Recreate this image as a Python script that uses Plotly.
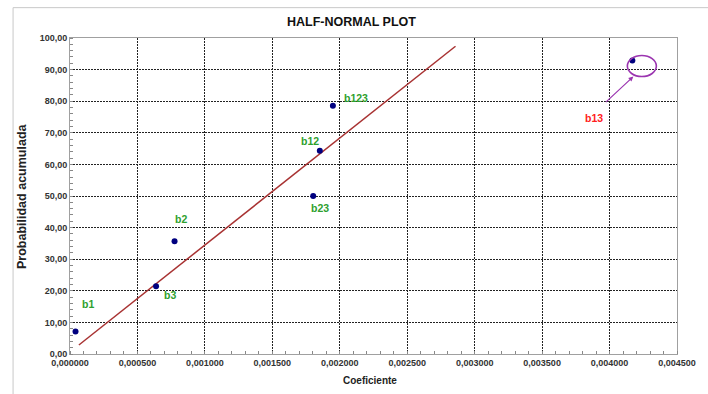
import plotly.graph_objects as go

# ---- data ----
effects = ["b1", "b3", "b2", "b23", "b12", "b123", "b13"]
coef = [0.000041, 0.000638, 0.000775, 0.001803, 0.001852, 0.001949, 0.004169]
prob = [7.14, 21.43, 35.71, 50.00, 64.29, 78.57, 92.86]
fit_x = [0.0000658, 0.002858]
fit_y = [2.85, 97.4]
x_ticks = [0.0, 0.0005, 0.001, 0.0015, 0.002, 0.0025, 0.003, 0.0035, 0.004, 0.0045]
y_ticks = [0, 10, 20, 30, 40, 50, 60, 70, 80, 90, 100]
highlight = "b13"

# label pixel offsets (style, not data)
label_shift = {
    "b1": (12, 27), "b3": (14, -9), "b2": (6, 22), "b23": (7, -12),
    "b12": (-10, 10), "b123": (23, 8), "b13": (-38, -57),
}

FONT = "Liberation Sans, Arial, sans-serif"
GREEN = "#2ea02e"
PURPLE = "#9b35b0"

fig = go.Figure()
fig.add_trace(go.Scatter(x=fit_x, y=fit_y, mode="lines",
                         line=dict(color="#a83232", width=1.5),
                         hoverinfo="skip", showlegend=False))
fig.add_trace(go.Scatter(x=coef, y=prob, mode="markers",
                         marker=dict(color="#00007f", size=6),
                         showlegend=False))

annotations = []
for name, xv, yv in zip(effects, coef, prob):
    dx, dy = label_shift[name]
    annotations.append(dict(
        x=xv, y=yv, xref="x", yref="y", text=name, showarrow=False,
        xshift=dx, yshift=dy, xanchor="center", yanchor="middle",
        font=dict(family=FONT, size=10.5, weight="bold",
                  color="#ff2020" if name == highlight else GREEN)))

hx = coef[effects.index(highlight)]
hy = prob[effects.index(highlight)]
# arrow pointing to highlighted point's circle
annotations.append(dict(
    x=hx, y=hy, xref="x", yref="y", text="", showarrow=True,
    xshift=1, yshift=-16, ax=-29, ay=27, axref="pixel", ayref="pixel",
    arrowhead=2, arrowsize=0.8, arrowwidth=1.2, arrowcolor=PURPLE))

# titles
annotations.append(dict(x=0.5, y=1, xref="paper", yref="paper", yshift=16,
                        xanchor="center", yanchor="middle",
                        text="HALF-NORMAL PLOT", showarrow=False, xshift=-22,
                        font=dict(family=FONT, size=12.5, weight="bold", color="#111")))
annotations.append(dict(x=0.5, y=0, xref="paper", yref="paper", yshift=-26,
                        xanchor="center", yanchor="middle",
                        text="Coeficiente", showarrow=False, xshift=-4,
                        font=dict(family=FONT, size=10, weight="bold", color="#222")))
annotations.append(dict(x=0, y=0.5, xref="paper", yref="paper", xshift=-48,
                        xanchor="center", yanchor="middle",
                        text="Probabilidad acumulada", showarrow=False, textangle=-90,
                        font=dict(family=FONT, size=12.5, weight="bold", color="#222")))

shapes = [
    dict(type="circle", xref="x", yref="y", xsizemode="pixel", ysizemode="pixel",
         xanchor=hx, yanchor=hy, x0=-5, x1=24, y0=-16, y1=5,
         line=dict(color=PURPLE, width=1.6)),
    # outer chart frame (left and top)
    dict(type="line", xref="paper", yref="paper", x0=-0.0938, x1=-0.0938,
         y0=-0.2, y1=1.096, line=dict(color="#c8c8c8", width=1)),
    dict(type="line", xref="paper", yref="paper", x0=-0.0938, x1=1.1,
         y0=1.096, y1=1.096, line=dict(color="#c8c8c8", width=1)),
]

axis_common = dict(
    showgrid=True, gridcolor="#222", gridwidth=1, griddash="2px,1px",
    showline=True, linecolor="#a0a0a0", linewidth=1, mirror=True,
    zeroline=False, ticks="",
    tickfont=dict(family=FONT, size=9, weight="bold", color="#333"),
)

fig.update_layout(
    width=708, height=394,
    margin=dict(l=70, r=23, t=38, b=40),
    paper_bgcolor="white", plot_bgcolor="white",
    separators=",.",
    showlegend=False,
    annotations=annotations,
    shapes=shapes,
    xaxis=dict(range=[0, 0.0045], tickvals=x_ticks, tickformat=".6f",
               minor=dict(dtick=0.0001, tick0=0, ticks="inside", ticklen=3,
                          tickcolor="#888", showgrid=False),
               **axis_common),
    yaxis=dict(range=[0, 100], tickvals=y_ticks, tickformat=".2f",
               minor=dict(dtick=2, tick0=0, ticks="inside", ticklen=3,
                          tickcolor="#888", showgrid=False),
               **axis_common),
)

fig.write_html("out.html")
